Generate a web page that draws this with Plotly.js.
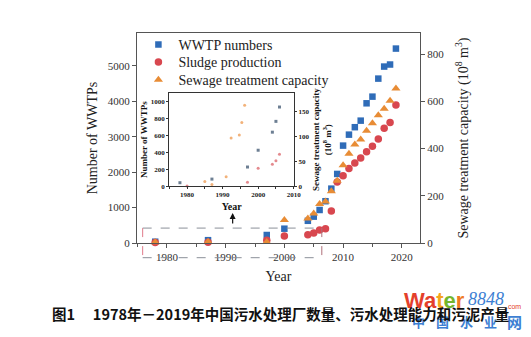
<!DOCTYPE html>
<html>
<head>
<meta charset="utf-8">
<script src="https://cdn.plot.ly/plotly-3.0.1.min.js"></script>
<style>html,body{margin:0;padding:0;background:#fff;}#chart{width:531px;height:337px;}</style>
</head>
<body>
<div id="chart"></div>
<script>
// ---- main chart data ----
const years = [1978, 1987, 1997, 2000, 2004, 2005, 2006, 2007, 2008, 2009, 2010, 2011, 2012, 2013, 2014, 2015, 2016, 2017, 2018, 2019];
const wwtpNumbers = [37, 80, 226, 404, 627, 744, 932, 1180, 1535, 1950, 2750, 3060, 3270, 3455, 3945, 4133, 4642, 4982, 5040, 5490];
const sludgeProduction = [2, 3, 12, 30, 35, 42, 55, 60, 136, 258, 285, 316, 339, 360, 387, 410, 441, 486, 511, 585];
const sewageCapacity = [3, 5, 4, 97, 104, 125, 165, 176, 219, 264, 330, 378, 417, 439, 476, 507, 541, 569, 603, 655];

// ---- inset data ----
const insetWwtpYears = [1978, 1987, 1997, 2000, 2004, 2005, 2006];
const insetWwtp = [40, 83, 226, 425, 639, 767, 937];
const insetCapYears = [1985, 1987, 1991, 1992.4, 1994.7, 1995.4, 1996.2];
const insetCap = [9, 3.4, 19, 97, 103, 128, 163];
const insetSludgeYears = [1980, 1997, 2000, 2004, 2005, 2006];
const insetSludge = [0, 7.5, 36, 44, 51, 64];

const seriesNames = ['WWTP numbers', 'Sludge production', 'Sewage treatment capacity'];
const caption = '图1\u3000\u00a01978年－2019年中国污水处理厂数量、污水处理能力和污泥产量';
const wmChars = ['中', '国', '水', '业', '网'];

const SERIF = 'Liberation Serif, Times New Roman, serif';
const BLUE = '#2f6cb8', RED = '#d8474f', ORANGE = '#e88c35';

const traces = [
  {x: years, y: wwtpNumbers, name: seriesNames[0], type: 'scatter', mode: 'markers', legend: 'legend',
   marker: {symbol: 'square', size: 6.5, color: BLUE}, xaxis: 'x', yaxis: 'y', cliponaxis: false},
  {x: years, y: sludgeProduction, name: seriesNames[1], type: 'scatter', mode: 'markers', legend: 'legend2',
   marker: {symbol: 'circle', size: 7.5, color: RED}, xaxis: 'x', yaxis: 'y2', cliponaxis: false},
  {x: years, y: sewageCapacity, name: seriesNames[2], type: 'scatter', mode: 'markers', legend: 'legend3',
   marker: {symbol: 'triangle-up', size: 8, color: ORANGE}, xaxis: 'x', yaxis: 'y2', cliponaxis: false},
  {x: insetWwtpYears, y: insetWwtp, type: 'scatter', mode: 'markers', showlegend: false,
   marker: {symbol: 'square', size: 3, color: '#6d7f93'}, xaxis: 'x2', yaxis: 'y3', cliponaxis: false},
  {x: insetCapYears, y: insetCap, type: 'scatter', mode: 'markers', showlegend: false,
   marker: {symbol: 'circle', size: 3, color: '#f2b27a'}, xaxis: 'x2', yaxis: 'y4', cliponaxis: false},
  {x: insetSludgeYears, y: insetSludge, type: 'scatter', mode: 'markers', showlegend: false,
   marker: {symbol: 'circle', size: 3, color: '#e48a8e'}, xaxis: 'x2', yaxis: 'y4', cliponaxis: false}
];

const axisCommon = {showgrid: false, zeroline: false, showline: true, linecolor: '#555', linewidth: 1,
  ticks: 'outside', ticklen: 4, tickcolor: '#555', tickfont: {family: SERIF, size: 11, color: '#333'}};
const insetCommon = {showgrid: false, zeroline: false, showline: true, linecolor: '#333', linewidth: 1,
  ticks: 'outside', ticklen: 2, tickcolor: '#333', tickfont: {family: SERIF, size: 7, color: '#222', weight: 'bold'}};

const legendBase = {x: 0.005, xanchor: 'left', yanchor: 'middle', bgcolor: 'rgba(0,0,0,0)',
  font: {family: SERIF, size: 14, color: '#222'}};

const wmAnn = wmChars.map((c, i) => ({
  xref: 'paper', yref: 'paper', x: 0.993 + i * 0.0855, y: -0.376, xanchor: 'center', yanchor: 'middle',
  text: c, showarrow: false,
  font: {family: 'Noto Sans CJK SC', size: i === 4 ? 15 : 13, color: '#3d7fd3', weight: 'bold'}
}));

const layout = {
  width: 531, height: 337,
  margin: {l: 137, r: 111, t: 33, b: 94},
  paper_bgcolor: '#fff', plot_bgcolor: '#fff',
  showlegend: true,
  legend: Object.assign({}, legendBase, {y: 0.943}),
  legend2: Object.assign({}, legendBase, {y: 0.860}),
  legend3: Object.assign({}, legendBase, {y: 0.776}),
  xaxis: Object.assign({}, axisCommon, {range: [1974.9, 2023.1], tick0: 1980, dtick: 10, mirror: true,
    minor: {dtick: 5, ticks: 'outside', ticklen: 2.5, tickcolor: '#555'},
    title: {text: 'Year', font: {family: SERIF, size: 14, color: '#222'}, standoff: 8}}),
  yaxis: Object.assign({}, axisCommon, {range: [0, 5930], dtick: 1000,
    title: {text: 'Number of WWTPs', font: {family: SERIF, size: 14, color: '#222'}, standoff: 6}}),
  yaxis2: Object.assign({}, axisCommon, {range: [0, 890], dtick: 200, overlaying: 'y', side: 'right',
    title: {text: 'Sewage treatment capacity (10<sup>8</sup> m<sup>3</sup>)', font: {family: SERIF, size: 14, color: '#222'}, standoff: 14}}),
  xaxis2: Object.assign({}, insetCommon, {domain: [0.114, 0.555], anchor: 'y3', range: [1975, 2010.1], tick0: 1980, dtick: 10,
    mirror: true, minor: {dtick: 5, ticks: 'outside', ticklen: 1.5, tickcolor: '#333'},
    title: {text: 'Year', font: {family: SERIF, size: 10, color: '#111', weight: 'bold'}, standoff: 4}}),
  yaxis3: Object.assign({}, insetCommon, {domain: [0.271, 0.713], anchor: 'x2', range: [0, 1100], dtick: 200,
    title: {text: 'Number of WWTPs', font: {family: SERIF, size: 9, color: '#111', weight: 'bold'}, standoff: 1}}),
  yaxis4: Object.assign({}, insetCommon, {overlaying: 'y3', anchor: 'x2', side: 'right', range: [0, 187], dtick: 50,
    title: {text: 'Sewage treatment capacity<br>(10<sup>8</sup> m<sup>3</sup>)', font: {family: SERIF, size: 9, color: '#111', weight: 'bold'}, standoff: 4}}),
  shapes: [
    {type: 'line', xref: 'paper', yref: 'paper', x0: 0.020, x1: 0.653, y0: 0.071, y1: 0.071, layer: 'above',
     line: {color: '#8a8f98', width: 1, dash: 'dash'}},
    {type: 'line', xref: 'paper', yref: 'paper', x0: 0.020, x1: 0.653, y0: -0.07, y1: -0.07, layer: 'above',
     line: {color: '#8a8f98', width: 1, dash: 'dash'}},
    {type: 'line', xref: 'paper', yref: 'paper', x0: 0.020, x1: 0.020, y0: 0.071, y1: -0.095, layer: 'above',
     line: {color: '#e07b8a', width: 1, dash: 'dash'}},
    {type: 'line', xref: 'paper', yref: 'paper', x0: 0.653, x1: 0.653, y0: 0.071, y1: -0.095, layer: 'above',
     line: {color: '#b0707a', width: 1, dash: 'dash'}}
  ],
  annotations: [
    {xref: 'paper', yref: 'paper', x: 0.338, y: 0.143, ax: 0, ay: 12, axref: 'pixel', ayref: 'pixel',
     showarrow: true, arrowhead: 2, arrowsize: 1, arrowwidth: 1.2, arrowcolor: '#111', text: ''},
    {xref: 'paper', yref: 'paper', x: 0.938, y: -0.275, xanchor: 'left', yanchor: 'middle', showarrow: false,
     text: '<span style="color:#e4402c">Wa</span><span style="color:#f5a51c">t</span><span style="color:#74b62c">e</span><span style="color:#ef7a22">r</span>',
     font: {family: 'Liberation Sans, Arial, sans-serif', size: 22, weight: 'bold'}},
    {xref: 'paper', yref: 'paper', x: 1.163, y: -0.268, xanchor: 'left', yanchor: 'middle', showarrow: false,
     text: '<i>8848</i>', font: {family: SERIF, size: 18, color: '#3d7fd3'}},
    {xref: 'paper', yref: 'paper', x: 1.298, y: -0.3, xanchor: 'left', yanchor: 'middle', showarrow: false,
     text: '.com', font: {family: 'Liberation Sans, Arial, sans-serif', size: 7, color: '#e4402c'}}
  ].concat(wmAnn).concat([
    {xref: 'paper', yref: 'paper', x: 0.507, y: -0.338, xanchor: 'center', yanchor: 'middle', showarrow: false,
     text: caption, font: {family: 'Noto Sans CJK SC', size: 14.5, color: '#111', weight: 'bold'}}
  ])
};

Plotly.newPlot('chart', traces, layout, {displayModeBar: false, staticPlot: true});
</script>
</body>
</html>
